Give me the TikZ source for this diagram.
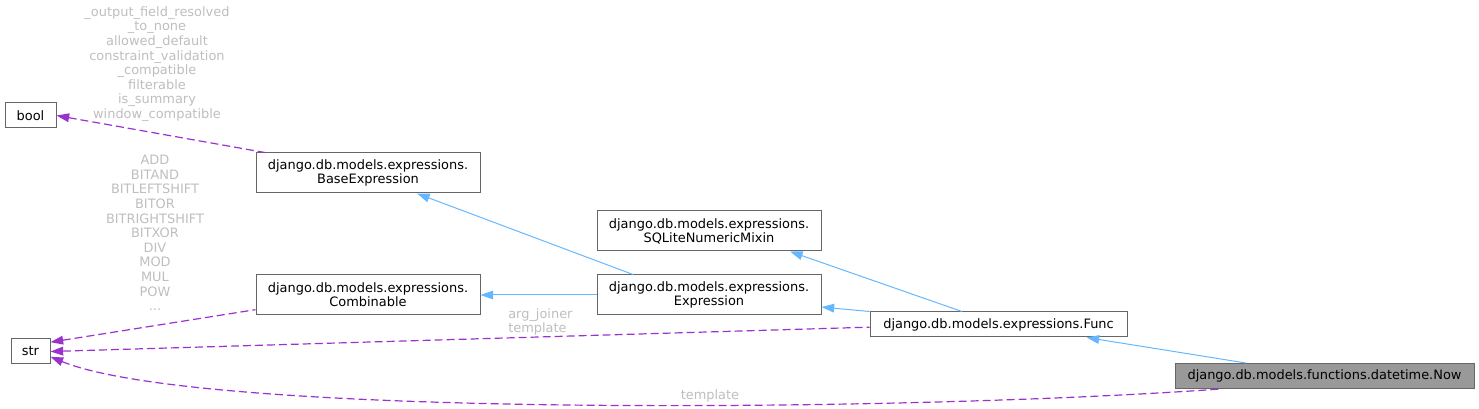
\documentclass[tikz,border=0pt]{standalone}
\usepackage{fontspec}
\setmainfont{DejaVu Sans}
\usepackage{xcolor}
\usepackage{tikz}
\usetikzlibrary{
  arrows.meta
}
\definecolor{boxline}{HTML}{666666}
\definecolor{nowfill}{HTML}{999999}
\definecolor{usecol}{HTML}{9A32CD}
\definecolor{inhcol}{HTML}{63B8FF}
\definecolor{labelgrey}{HTML}{BEBEBE}
\tikzset{
  classbox/.style={
    draw=boxline,
    fill=white,
    line width=0.75pt,
    inner sep=0pt,
    minimum width=168pt,
    minimum height=30pt,
    align=center,
    font=\fontsize{9.7}{10.5}\selectfont
  },
  smallbox/.style={
    classbox,
    minimum height=18.75pt
  },
  inherit/.style={
    {Triangle[length=9.5pt,width=6.5pt]}-,
    line width=0.75pt,
    draw=inhcol
  },
  usage/.style={
    {Triangle[length=9.5pt,width=6.5pt]}-,
    line width=0.9pt,
    draw=usecol,
    dash pattern=on 6pt off 3pt
  },
  elabel/.style={
    text=labelgrey,
    inner sep=0pt,
    align=center,
    font=\fontsize{9.7}{10.95}\selectfont
  }
}

\begin{document}
\begin{tikzpicture}[x=0.75pt,y=-0.75pt]
\useasboundingbox (0,0) rectangle (1479,409);

% classes
\node[smallbox, minimum width=38.25pt] (bool) at (30.5,115.5) {bool};
\node[smallbox, minimum width=29.25pt] (str) at (30.5,351.5) {str};
\node[classbox] (base) at (368,173) {django.db.models.expressions.\\BaseExpression};
\node[classbox] (comb) at (368,295) {django.db.models.expressions.\\Combinable};
\node[classbox] (mixin) at (709,231) {django.db.models.expressions.\\SQLiteNumericMixin};
\node[classbox] (expr) at (709,295) {django.db.models.expressions.\\Expression};
\node[smallbox, minimum width=192.75pt] (func) at (998.5,324.5) {django.db.models.expressions.Func};
\node[smallbox, fill=nowfill, minimum width=224.25pt] (now) at (1324.5,376) {django.db.models.functions.datetime.Now};

% inheritance
\draw[inherit] ([xshift=36.75pt]base.south) -- ([xshift=-57pt]expr.north);
\draw[inherit] (comb.east) -- (expr.west);
\draw[inherit] ([xshift=60.75pt]mixin.south) -- ([xshift=-27.4pt]func.north);
\draw[inherit] ([yshift=-9pt]expr.east) -- (func.north west);
\draw[inherit] ([xshift=66pt]func.south) -- ([xshift=-59pt]now.north);

% usage
\draw[usage] (bool.east) -- ([xshift=7pt]base.north west);
\draw[usage] ([yshift=7pt]str.east) -- ([yshift=-11pt]comb.west);
\draw[usage] (str.east) -- ([yshift=-2pt]func.west);
\draw[usage] ([yshift=-4pt]str.east) .. controls (200,418) and (900,412) .. ([xshift=-78pt]now.south);

% member labels
\node[elabel] (boolvars) at (157,64) {\_output\_field\_resolved\\\_to\_none\\allowed\_default\\constraint\_validation\\\_compatible\\filterable\\is\_summary\\window\_compatible};
\node[elabel] (strops) at (155,233) {ADD\\BITAND\\BITLEFTSHIFT\\BITOR\\BITRIGHTSHIFT\\BITXOR\\DIV\\MOD\\MUL\\POW\\...};
\node[elabel, anchor=west, align=left] (funcvars) at (508,322) {arg\_joiner\\template};
\node[elabel] (nowvars) at (710,396) {template};
\end{tikzpicture}
\end{document}
